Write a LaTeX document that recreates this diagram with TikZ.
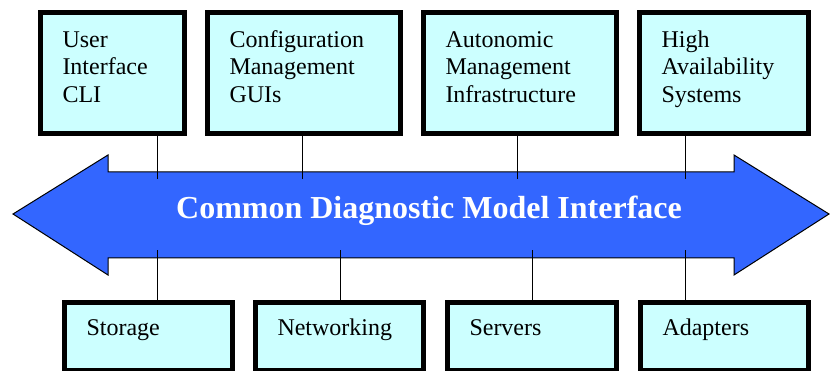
\documentclass[tikz,border=0pt]{standalone}
\usepackage{fontspec}
\setmainfont{Liberation Serif}
\usepackage{xcolor}
\usepackage{tikz}
\usetikzlibrary{positioning}
\definecolor{boxcyan}{HTML}{CCFFFF}
\definecolor{busblue}{HTML}{3366FF}

\begin{document}
\begin{tikzpicture}[x=1pt, y=-1pt,
    box/.style={rectangle, draw, line width=5pt, fill=boxcyan, anchor=north west, inner sep=0pt, inner xsep=22.5pt, align=left, font=\fontsize{24}{27.5}\selectfont},
    topbox/.style={box, text height=34.5pt, text depth=86.5pt},
    lowbox/.style={box, text height=33.5pt, text depth=34.5pt},
    bus/.style={draw=black, line width=1pt, fill=busblue},
    link/.style={line width=1pt}
]
\useasboundingbox (0,0) rectangle (832,371);

% the interface arrow
\draw[bus] (13,214) -- (108,155) -- (108,172) -- (734,172) -- (734,155) -- (829,214)
    -- (734,275) -- (734,258) -- (108,258) -- (108,275) -- cycle;
\node[font=\fontsize{32}{38}\selectfont\bfseries, text=white, anchor=base] (cdmi) at (429,219) {Common Diagnostic Model Interface};

% upper row
\node[topbox, text width=99pt] (cli) at (37.5,10.5) {User\\Interface\\CLI};
\node[topbox, text width=148pt] (config) at (204.5,10.5) {Configuration\\Management\\GUIs};
\node[topbox, text width=148pt] (autonomic) at (420.5,10.5) {Autonomic\\Management\\Infrastructure};
\node[topbox, text width=124pt] (highavail) at (636.5,10.5) {High\\Availability\\Systems};

% lower row
\node[lowbox, text width=123pt] (storage) at (61.5,299.5) {Storage};
\node[lowbox, text width=123pt] (network) at (252.5,299.5) {Networking};
\node[lowbox, text width=124pt] (servers) at (444.5,299.5) {Servers};
\node[lowbox, text width=123pt] (adapters) at (637.5,299.5) {Adapters};

\foreach \n/\x in {cli/157, config/302, autonomic/517, highavail/685}
    \draw[link] (\n.south -| \x,0) -- (\x,179);
\foreach \n/\x in {storage/157, network/340, servers/532, adapters/685}
    \draw[link] (\n.north -| \x,0) -- (\x,250);

\end{tikzpicture}
\end{document}
